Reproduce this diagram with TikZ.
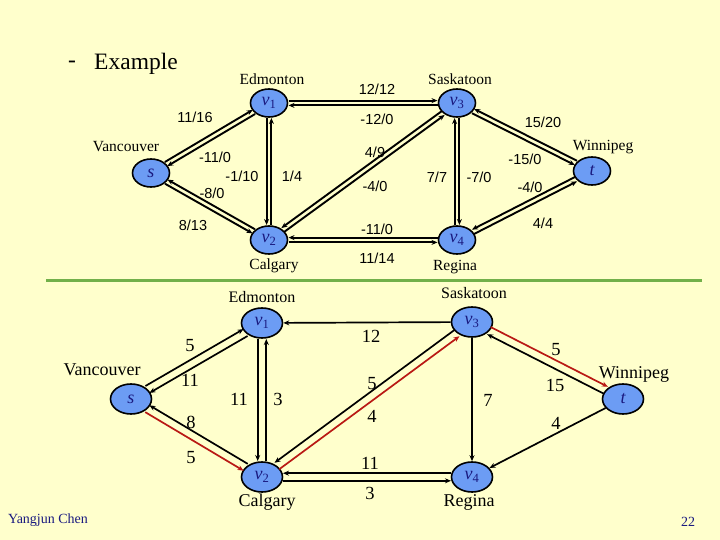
\documentclass[tikz,border=0pt]{standalone}
\usepackage{fontspec}
\setmainfont{Liberation Serif}
\newfontfamily\arialf{Liberation Sans}
\usetikzlibrary{shapes.geometric,arrows.meta,calc}
\definecolor{bgyellow}{HTML}{FFFFCC}
\definecolor{nodeblue}{HTML}{6C9CF4}
\definecolor{mynavy}{HTML}{1A1A80}
\definecolor{gline}{HTML}{72B04A}
\definecolor{redpath}{RGB}{185,25,20}
\newcommand\pairedge[6]{%
  \draw[#5, shorten <=#4, shorten >=#4] ($(#1)!#3!90:(#2)$) -- ($(#2)!#3!-90:(#1)$);
  \draw[#6, shorten <=#4, shorten >=#4] ($(#1)!#3!-90:(#2)$) -- ($(#2)!#3!90:(#1)$);
}
\begin{document}
\begin{tikzpicture}[x=1pt,y=-1pt,
  >={Stealth[length=6pt,width=5pt]},
  vtx/.style={ellipse, draw=black, line width=1.6pt, fill=nodeblue, inner sep=0pt,
    text=mynavy, font=\fontsize{18}{18}\selectfont},
  topv/.style={vtx, minimum width=37pt, minimum height=28pt},
  botv/.style={vtx, minimum width=41pt, minimum height=30pt},
  tedge/.style={line width=1.9pt, black},
  bedge/.style={line width=1.7pt, black},
  redge/.style={line width=1.7pt, redpath},
  tcity/.style={font=\fontsize{15.5}{15.5}\selectfont},
  tnum/.style={font=\arialf\fontsize{14.5}{14.5}\selectfont},
  bcity/.style={font=\fontsize{18}{18}\selectfont},
  bcitys/.style={font=\fontsize{16}{16}\selectfont},
  bnum/.style={font=\fontsize{18.5}{18.5}\selectfont},
  foot/.style={text=mynavy, font=\fontsize{14}{14}\selectfont}
]
\useasboundingbox (0,0) rectangle (720,540);
\fill[bgyellow] (0,0) rectangle (720,540);

% title
\node[font=\fontsize{23.5}{23.5}\selectfont] (dash) at (72,64) {-};
\node[font=\fontsize{23.5}{23.5}\selectfont] (title) at (136,64) {Example};

% ---------- top graph ----------
\node[topv] (s)  at (151,173) {\itshape s};
\node[topv] (v1) at (269,103) {{\itshape v}\textsubscript{1}};
\node[topv] (v2) at (269,240) {{\itshape v}\textsubscript{2}};
\node[topv] (v3) at (457,103) {{\itshape v}\textsubscript{3}};
\node[topv] (v4) at (457,240) {{\itshape v}\textsubscript{4}};
\node[topv] (t)  at (592,171) {\itshape t};

\pairedge{s}{v1}{2.4pt}{17.5pt}{tedge,->}{tedge,<-}
\pairedge{v1}{v2}{2.4pt}{15pt}{tedge,<-}{tedge,->}
\pairedge{s}{v2}{2.4pt}{17.5pt}{tedge,<-}{tedge,->}
\pairedge{v1}{v3}{2.4pt}{19.5pt}{tedge,->}{tedge,<-}
\pairedge{v2}{v3}{2.4pt}{17pt}{tedge,<-}{tedge,->}
\pairedge{v2}{v4}{2.4pt}{19.5pt}{tedge,<-}{tedge,->}
\pairedge{v3}{v4}{2.4pt}{15pt}{tedge,->}{tedge,<-}
\pairedge{v3}{t}{2.4pt}{18pt}{tedge,<-}{tedge,->}
\pairedge{v4}{t}{2.4pt}{18pt}{tedge,<-}{tedge,->}

\node[tcity] (ced) at (272,79) {Edmonton};
\node[tcity] (csa) at (460,79) {Saskatoon};
\node[tcity] (cva) at (126,147) {Vancouver};
\node[tcity] (cca) at (274,266) {Calgary};
\node[tcity] (cre) at (455,267) {Regina};
\node[tcity] (cwi) at (603,147) {Winnipeg};

\node[tnum] (a1) at (195,117) {11/16};
\node[tnum] (a2) at (215,157) {-11/0};
\node[tnum] (a3) at (242,176) {-1/10};
\node[tnum] (a4) at (292,176) {1/4};
\node[tnum] (a5) at (212,193) {-8/0};
\node[tnum] (a6) at (193,225) {8/13};
\node[tnum] (a7) at (377,89) {12/12};
\node[tnum] (a8) at (377,119) {-12/0};
\node[tnum] (a9) at (375,152) {4/9};
\node[tnum] (a10) at (375,186) {-4/0};
\node[tnum] (a11) at (377,229) {-11/0};
\node[tnum] (a12) at (377,258) {11/14};
\node[tnum] (a13) at (437,177) {7/7};
\node[tnum] (a14) at (479,177) {-7/0};
\node[tnum] (a15) at (543,122) {15/20};
\node[tnum] (a16) at (525,159) {-15/0};
\node[tnum] (a17) at (530,187) {-4/0};
\node[tnum] (a18) at (543,223) {4/4};

% separator
\draw[gline, line width=3pt] (46,280) -- (702,280);

% ---------- bottom graph ----------
\node[botv] (bs)  at (131,399) {\itshape s};
\node[botv] (bv1) at (262,323) {{\itshape v}\textsubscript{1}};
\node[botv] (bv2) at (262,477) {{\itshape v}\textsubscript{2}};
\node[botv] (bv3) at (472,322) {{\itshape v}\textsubscript{3}};
\node[botv] (bv4) at (472,477) {{\itshape v}\textsubscript{4}};
\node[botv] (bt)  at (623,399) {\itshape t};

\pairedge{bs}{bv1}{4pt}{19pt}{bedge,->}{bedge,<-}
\pairedge{bv1}{bv2}{4.3pt}{16pt}{bedge,<-}{bedge,->}
\pairedge{bs}{bv2}{4pt}{19pt}{bedge,<-}{redge,->}
\draw[bedge,<-] (bv1) -- (bv3);
\pairedge{bv2}{bv3}{4pt}{18.5pt}{bedge,<-}{redge,->}
\pairedge{bv2}{bv4}{3.8pt}{21pt}{bedge,<-}{bedge,->}
\draw[bedge,->] (bv3) -- (bv4);
\pairedge{bv3}{bt}{4pt}{19pt}{redge,->}{bedge,<-}
\draw[bedge,->] (bt) -- (bv4);

\node[bcitys] (bed) at (262,297) {Edmonton};
\node[bcitys] (bsa) at (474,293) {Saskatoon};
\node[bcity] (bva) at (102,370) {Vancouver};
\node[bcity] (bca) at (267,502) {Calgary};
\node[bcity] (bre) at (469,502) {Regina};
\node[bcity] (bwi) at (634,374) {Winnipeg};

\node[bnum] (b1) at (190,346) {5};
\node[bnum] (b2) at (190,380) {11};
\node[bnum] (b3) at (239,399) {11};
\node[bnum] (b4) at (278,399) {3};
\node[bnum] (b5) at (191,422) {8};
\node[bnum] (b6) at (191,458) {5};
\node[bnum] (b7) at (371,336) {12};
\node[bnum] (b8) at (372,384) {5};
\node[bnum] (b9) at (372,416) {4};
\node[bnum] (b10) at (370,463) {11};
\node[bnum] (b11) at (370,493) {3};
\node[bnum] (b12) at (488,400) {7};
\node[bnum] (b13) at (556,350) {5};
\node[bnum] (b14) at (555,385) {15};
\node[bnum] (b15) at (556,423) {4};

% footer
\node[foot] (author) at (48,520) {Yangjun Chen};
\node[foot] (page) at (688,522) {22};
\end{tikzpicture}
\end{document}
